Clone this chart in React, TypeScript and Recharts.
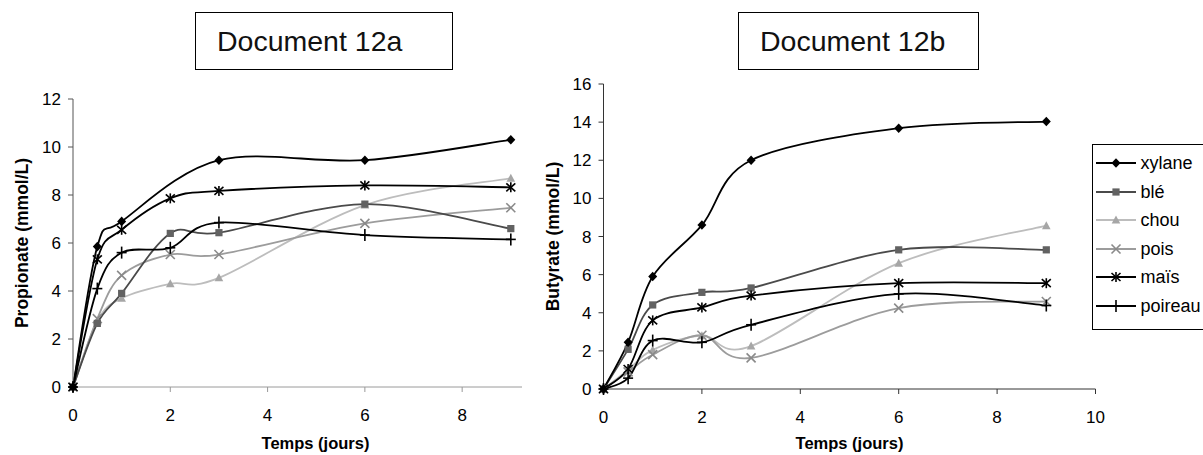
import { Label, Legend, Line, LineChart, XAxis, YAxis } from "recharts";

const FONT = '"Liberation Sans", Arial, sans-serif';

// sampling days (same for both documents)
const days = [0, 0.5, 1, 2, 3, 6, 9];

// Document 12a - propionate (mmol/L)
const propXylane = [0, 5.85, 6.9, null, 9.45, 9.45, 10.3];
const propBle = [0, 2.65, 3.9, 6.4, 6.43, 7.62, 6.6];
const propChou = [0, 2.75, 3.7, 4.3, 4.55, 7.58, 8.7];
const propPois = [0, 2.85, 4.65, 5.52, 5.52, 6.82, 7.47];
const propMais = [0, 5.32, 6.55, 7.86, 8.17, 8.4, 8.32];
const propPoireau = [0, 4.1, 5.6, 5.8, 6.85, 6.33, 6.15];

// Document 12b - butyrate (mmol/L)
const butXylane = [0, 2.45, 5.9, 8.6, 12.0, 13.68, 14.03];
const butBle = [0, 2.08, 4.41, 5.07, 5.3, 7.3, 7.3];
const butChou = [0, 1.0, 2.05, 2.8, 2.25, 6.6, 8.57];
const butPois = [0, 0.9, 1.8, 2.82, 1.63, 4.24, 4.59];
const butMais = [0, 1.05, 3.6, 4.28, 4.9, 5.55, 5.55];
const butPoireau = [0, 0.57, 2.54, 2.45, 3.37, 4.99, 4.38];

const seriesKeys = ["xylane", "ble", "chou", "pois", "mais", "poireau"];
const seriesLabels = ["xylane", "blé", "chou", "pois", "maïs", "poireau"];

const propTicksX = [0, 2, 4, 6, 8];
const propTicksY = [0, 2, 4, 6, 8, 10, 12];
const butTicksX = [0, 2, 4, 6, 8, 10];
const butTicksY = [0, 2, 4, 6, 8, 10, 12, 14, 16];

const propRows = days.map((t, i) => ({
  t,
  xylane: propXylane[i],
  ble: propBle[i],
  chou: propChou[i],
  pois: propPois[i],
  mais: propMais[i],
  poireau: propPoireau[i],
}));

const butRows = days.map((t, i) => ({
  t,
  xylane: butXylane[i],
  ble: butBle[i],
  chou: butChou[i],
  pois: butPois[i],
  mais: butMais[i],
  poireau: butPoireau[i],
}));

type Shape = "diamond" | "square" | "triangle" | "x" | "star" | "plus";

const look: Record<string, { stroke: string; fill: string; shape: Shape }> = {
  xylane: { stroke: "#000", fill: "#000", shape: "diamond" },
  ble: { stroke: "#4a4a4a", fill: "#626262", shape: "square" },
  chou: { stroke: "#bdbdbd", fill: "#a6a6a6", shape: "triangle" },
  pois: { stroke: "#9c9c9c", fill: "#8a8a8a", shape: "x" },
  mais: { stroke: "#000", fill: "#000", shape: "star" },
  poireau: { stroke: "#000", fill: "#000", shape: "plus" },
};

// draw order: grey ones underneath, black ones on top
const drawOrder = ["chou", "pois", "ble", "poireau", "mais", "xylane"];

// Excel-like smoothed line (Catmull-Rom through the points)
function excelSmooth(context: any) {
  let pts: number[][] = [];
  return {
    areaStart() {},
    areaEnd() {},
    lineStart() {
      pts = [];
    },
    lineEnd() {
      if (!pts.length) return;
      context.moveTo(pts[0][0], pts[0][1]);
      for (let i = 0; i < pts.length - 1; i++) {
        const p0 = pts[Math.max(i - 1, 0)];
        const p1 = pts[i];
        const p2 = pts[i + 1];
        const p3 = pts[Math.min(i + 2, pts.length - 1)];
        context.bezierCurveTo(
          p1[0] + (p2[0] - p0[0]) / 6,
          p1[1] + (p2[1] - p0[1]) / 6,
          p2[0] - (p3[0] - p1[0]) / 6,
          p2[1] - (p3[1] - p1[1]) / 6,
          p2[0],
          p2[1]
        );
      }
    },
    point(x: number, y: number) {
      pts.push([x, y]);
    },
  };
}

function Marker({ shape, cx, cy, color }: { shape: Shape; cx: number; cy: number; color: string }) {
  const sw = 1.6;
  switch (shape) {
    case "diamond":
      return (
        <polygon
          points={`${cx},${cy - 4.8} ${cx + 4.5},${cy} ${cx},${cy + 4.8} ${cx - 4.5},${cy}`}
          fill={color}
        />
      );
    case "square":
      return <rect x={cx - 3.6} y={cy - 3.6} width={7.2} height={7.2} fill={color} />;
    case "triangle":
      return (
        <polygon
          points={`${cx},${cy - 4.5} ${cx + 4.3},${cy + 3.5} ${cx - 4.3},${cy + 3.5}`}
          fill={color}
        />
      );
    case "x":
      return (
        <g stroke={color} strokeWidth={sw}>
          <line x1={cx - 4.5} y1={cy - 4.5} x2={cx + 4.5} y2={cy + 4.5} />
          <line x1={cx - 4.5} y1={cy + 4.5} x2={cx + 4.5} y2={cy - 4.5} />
        </g>
      );
    case "star":
      return (
        <g stroke={color} strokeWidth={sw}>
          <line x1={cx - 4.5} y1={cy - 4} x2={cx + 4.5} y2={cy + 4} />
          <line x1={cx - 4.5} y1={cy + 4} x2={cx + 4.5} y2={cy - 4} />
          <line x1={cx} y1={cy - 5} x2={cx} y2={cy + 5} />
        </g>
      );
    default:
      return (
        <g stroke={color} strokeWidth={sw}>
          <line x1={cx - 5} y1={cy} x2={cx + 5} y2={cy} />
          <line x1={cx} y1={cy - 6} x2={cx} y2={cy + 6} />
        </g>
      );
  }
}

function makeDot(key: string) {
  const s = look[key];
  return (p: any) => {
    if (p.cy == null || p.value == null || Number.isNaN(p.cy)) return <g key={`d-${key}-${p.index}`} />;
    return (
      <g key={`d-${key}-${p.index}`}>
        <Marker shape={s.shape} cx={p.cx} cy={p.cy} color={s.fill} />
      </g>
    );
  };
}

function YTitle({ viewBox, value, x }: any) {
  const cy = viewBox.y + viewBox.height / 2;
  return (
    <text
      x={x}
      y={cy}
      transform={`rotate(-90 ${x} ${cy})`}
      textAnchor="middle"
      dominantBaseline="central"
      fontWeight="bold"
      fontSize={17.5}
      fill="#000"
    >
      {value}
    </text>
  );
}

function XTitle({ viewBox, value, dx, y }: any) {
  return (
    <text
      x={viewBox.x + viewBox.width / 2 + dx}
      y={y}
      textAnchor="middle"
      dominantBaseline="central"
      fontWeight="bold"
      fontSize={16.5}
      fill="#000"
    >
      {value}
    </text>
  );
}

function LegendBox() {
  return (
    <div
      style={{
        boxSizing: "border-box",
        width: 112,
        height: 186,
        border: "1px solid #000",
        background: "#fff",
        paddingTop: 4,
        paddingLeft: 3,
        fontFamily: FONT,
        fontSize: 18,
        color: "#000",
      }}
    >
      {seriesKeys.map((k, i) => (
        <div key={k} style={{ display: "flex", alignItems: "center", height: 28.5 }}>
          <svg width={40} height={14} style={{ flex: "none" }}>
            <line x1={0} y1={7} x2={40} y2={7} stroke={look[k].stroke} strokeWidth={1.8} />
            <Marker shape={look[k].shape} cx={20} cy={7} color={look[k].fill} />
          </svg>
          <span style={{ marginLeft: 5, lineHeight: "18px" }}>{seriesLabels[i]}</span>
        </div>
      ))}
    </div>
  );
}

function TitleBox({ text, left, width }: { text: string; left: number; width: number }) {
  return (
    <div
      style={{
        position: "absolute",
        left,
        top: 12,
        width,
        height: 58,
        boxSizing: "border-box",
        border: "1px solid #000",
        fontFamily: FONT,
        fontSize: 28.5,
        lineHeight: "56px",
        paddingLeft: 21,
        color: "#111",
        background: "#fff",
      }}
    >
      {text}
    </div>
  );
}

const tickStyle = { fontSize: 17, fill: "#000", fontFamily: FONT };

function lines() {
  return drawOrder.map((k) => (
    <Line
      key={k}
      dataKey={k}
      name={seriesLabels[seriesKeys.indexOf(k)]}
      type={excelSmooth as any}
      stroke={look[k].stroke}
      strokeWidth={1.8}
      dot={makeDot(k)}
      activeDot={false}
      connectNulls
      isAnimationActive={false}
    />
  ));
}

export default function App() {
  return (
    <div
      style={{
        position: "absolute",
        left: 0,
        top: 0,
        width: 1203,
        height: 455,
        background: "#fff",
        fontFamily: FONT,
        overflow: "hidden",
      }}
    >
      <div style={{ position: "absolute", left: 0, top: 0 }}>
        <LineChart width={540} height={455} data={propRows} margin={{ top: 99, right: 18, bottom: 0, left: 0 }}>
          <XAxis
            type="number"
            dataKey="t"
            domain={[0, 9.23]}
            ticks={propTicksX}
            interval={0}
            height={68}
            tickSize={5}
            tickMargin={17}
            stroke="#9a9a9a"
            tick={tickStyle}
          >
            <Label content={(p: any) => <XTitle {...p} value="Temps (jours)" dx={18} y={443} />} />
          </XAxis>
          <YAxis
            type="number"
            domain={[0, 12]}
            ticks={propTicksY}
            interval={0}
            width={73}
            tickSize={5}
            tickMargin={7}
            stroke="#555"
            tick={tickStyle}
          >
            <Label content={(p: any) => <YTitle {...p} value="Propionate (mmol/L)" x={22} />} />
          </YAxis>
          {lines()}
        </LineChart>
      </div>

      <div style={{ position: "absolute", left: 540, top: 0 }}>
        <LineChart width={663} height={455} data={butRows} margin={{ top: 84, right: 107.5, bottom: 0, left: 0 }}>
          <XAxis
            type="number"
            dataKey="t"
            domain={[0, 10]}
            ticks={butTicksX}
            interval={0}
            height={66}
            tickSize={5}
            tickMargin={17}
            stroke="#333"
            tick={tickStyle}
          >
            <Label content={(p: any) => <XTitle {...p} value="Temps (jours)" dx={0} y={443} />} />
          </XAxis>
          <YAxis
            type="number"
            domain={[0, 16]}
            ticks={butTicksY}
            interval={0}
            width={63.5}
            tickSize={5}
            tickMargin={7}
            stroke="#333"
            tick={tickStyle}
          >
            <Label content={(p: any) => <YTitle {...p} value="Butyrate (mmol/L)" x={13} />} />
          </YAxis>
          {lines()}
          <Legend
            layout="vertical"
            align="center"
            verticalAlign="middle"
            content={() => <LegendBox />}
            wrapperStyle={{ left: 551.5, top: 144, width: 112, height: 186 }}
          />
        </LineChart>
      </div>

      <TitleBox text="Document 12a" left={195} width={258} />
      <TitleBox text="Document 12b" left={738} width={241} />
    </div>
  );
}
